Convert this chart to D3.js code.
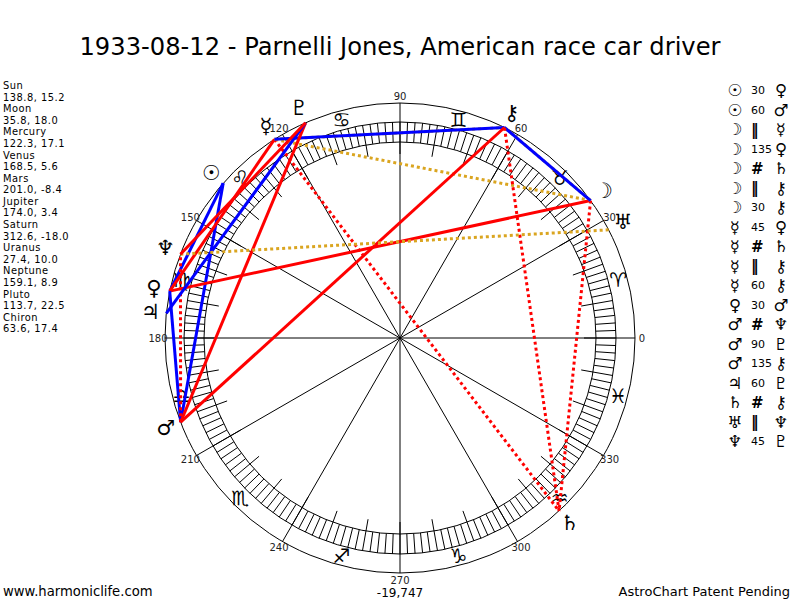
<!DOCTYPE html>
<html>
<head>
<meta charset="utf-8">
<script src="https://cdn.jsdelivr.net/npm/d3@7"></script>
<style>
  body { margin: 0; background: #fff; }
  svg { display: block; font-family: "DejaVu Sans", Verdana, sans-serif; }
</style>
</head>
<body>
<svg id="chart" width="800" height="600"></svg>
<script>
const title = "1933-08-12 - Parnelli Jones, American race car driver";
const planetNames = ["Sun", "Moon", "Mercury", "Venus", "Mars", "Jupiter", "Saturn", "Uranus", "Neptune", "Pluto", "Chiron"];
const planetGlyphs = ["\u2609", "\u263D", "\u263F", "\u2640", "\u2642", "\u2643", "\u2644", "\u2645", "\u2646", "\u2647", "\u26B7"];
const longitudes = [138.8, 35.8, 122.3, 168.5, 201.0, 174.0, 312.6, 27.4, 159.1, 113.7, 63.6];
const declinations = [15.2, 18.0, 17.1, 5.6, -8.4, 3.4, -18.0, 10.0, 8.9, 22.5, 17.4];
const signGlyphs = ["\u2648", "\u2649", "\u264A", "\u264B", "\u264C", "\u264D", "\u264E", "\u264F", "\u2650", "\u2651", "\u2652", "\u2653"];
const degreeLabels = [0, 30, 60, 90, 120, 150, 180, 210, 240, 270, 300, 330];
// [from, aspect, to]
const aspects = [
  ["Sun", "30", "Venus"],
  ["Sun", "60", "Mars"],
  ["Moon", "\u2016", "Mercury"],
  ["Moon", "135", "Venus"],
  ["Moon", "#", "Saturn"],
  ["Moon", "\u2016", "Chiron"],
  ["Moon", "30", "Chiron"],
  ["Mercury", "45", "Venus"],
  ["Mercury", "#", "Saturn"],
  ["Mercury", "\u2016", "Chiron"],
  ["Mercury", "60", "Chiron"],
  ["Venus", "30", "Mars"],
  ["Mars", "#", "Neptune"],
  ["Mars", "90", "Pluto"],
  ["Mars", "135", "Chiron"],
  ["Jupiter", "60", "Pluto"],
  ["Saturn", "#", "Chiron"],
  ["Uranus", "\u2016", "Neptune"],
  ["Neptune", "45", "Pluto"]
];
const footerLeft = "www.harmoniclife.com";
const footerMid = "-19,747";
const footerRight = "AstroChart Patent Pending";

const cx = 400, cy = 338;
const rOuter = 235, rRingOut = 216, rRingIn = 196, rLongTick = 184;
const rSign = 226, rPlanet = 251, rLabel = 242;
const vs = "\uFE0E";

const svg = d3.select("#chart");

// ecliptic degree -> pointRadial angle (0 at east, counter-clockwise)
const angle = d3.scaleLinear().domain([0, 360]).range([Math.PI / 2, Math.PI / 2 - 2 * Math.PI]);
const pt = (deg, r) => {
  const p = d3.pointRadial(angle(deg), r);
  return [cx + p[0], cy + p[1]];
};
const lonOf = name => longitudes[planetNames.indexOf(name)];
const glyphOf = name => planetGlyphs[planetNames.indexOf(name)];
const fmt = v => v.toFixed(1);

const styleOf = a => {
  if (a === "30" || a === "60" || a === "120") return { stroke: "#0000ff", dash: null };
  if (a === "\u2016") return { stroke: "#daa520", dash: "3,3" };
  if (a === "#") return { stroke: "#ff0000", dash: "3,3" };
  return { stroke: "#ff0000", dash: null };
};

svg.append("text")
  .attr("x", 400)
  .attr("y", 55)
  .attr("text-anchor", "middle")
  .attr("font-size", 24.2)
  .text(title);

// circles
const wheel = svg.append("g");
wheel.selectAll("circle")
  .data([rOuter, rRingOut, rRingIn])
  .join("circle")
  .attr("cx", cx)
  .attr("cy", cy)
  .attr("r", d => d)
  .attr("fill", "none")
  .attr("stroke", "#000")
  .attr("stroke-width", 1);

// ticks on the degree ring
wheel.selectAll("line.tick")
  .data(d3.range(0, 360, 2))
  .join("line")
  .classed("tick", true)
  .each(function (d) {
    const a = pt(d, d % 10 === 0 ? rLongTick : rRingIn);
    const b = pt(d, rRingOut);
    d3.select(this).attr("x1", a[0]).attr("y1", a[1]).attr("x2", b[0]).attr("y2", b[1]);
  })
  .attr("stroke", "#000")
  .attr("stroke-width", 1);

// spokes every 30 degrees
wheel.selectAll("line.spoke")
  .data(degreeLabels)
  .join("line")
  .classed("spoke", true)
  .attr("x1", cx)
  .attr("y1", cy)
  .attr("x2", d => pt(d, rOuter)[0])
  .attr("y2", d => pt(d, rOuter)[1])
  .attr("stroke", "#000")
  .attr("stroke-width", 1);

wheel.selectAll("text.deg")
  .data(degreeLabels)
  .join("text")
  .classed("deg", true)
  .attr("x", d => pt(d, rLabel)[0])
  .attr("y", d => pt(d, rLabel)[1])
  .attr("text-anchor", "middle")
  .attr("dominant-baseline", "central")
  .attr("font-size", 10)
  .attr("fill", "#222")
  .text(d => d);

wheel.selectAll("text.sign")
  .data(signGlyphs)
  .join("text")
  .classed("sign", true)
  .attr("x", (d, i) => pt(i * 30 + 15, rSign)[0])
  .attr("y", (d, i) => pt(i * 30 + 15, rSign)[1])
  .attr("text-anchor", "middle")
  .attr("dominant-baseline", "central")
  .attr("font-size", 20)
  .text(d => d + vs);

// aspect lines
svg.append("g")
  .selectAll("line")
  .data(aspects)
  .join("line")
  .each(function (d) {
    const a = pt(lonOf(d[0]), rOuter);
    const b = pt(lonOf(d[2]), rOuter);
    const s = styleOf(d[1]);
    d3.select(this)
      .attr("x1", a[0]).attr("y1", a[1])
      .attr("x2", b[0]).attr("y2", b[1])
      .attr("stroke", s.stroke)
      .attr("stroke-dasharray", s.dash);
  })
  .attr("stroke-width", 3);

// planet glyphs
svg.append("g")
  .selectAll("text")
  .data(planetGlyphs)
  .join("text")
  .attr("x", (d, i) => pt(longitudes[i], rPlanet)[0])
  .attr("y", (d, i) => pt(longitudes[i], rPlanet)[1])
  .attr("text-anchor", "middle")
  .attr("dominant-baseline", "central")
  .attr("font-size", 21)
  .text(d => d + vs);

// left list
const left = svg.append("g").attr("font-size", 9.9).attr("letter-spacing", 0.5);
planetNames.forEach((name, i) => {
  left.append("text").attr("x", 3).attr("y", 89 + i * 2 * 11.59).text(name);
  left.append("text").attr("x", 3).attr("y", 89 + (i * 2 + 1) * 11.59)
    .text(fmt(longitudes[i]) + ", " + fmt(declinations[i]));
});

// right list of aspects
const right = svg.append("g");
const rowY = d3.scaleLinear().domain([0, 1]).range([90.5, 110]);
const rows = right.selectAll("g")
  .data(aspects)
  .join("g")
  .attr("transform", (d, i) => `translate(0, ${rowY(i)})`);
rows.append("text")
  .attr("x", 735)
  .attr("text-anchor", "middle")
  .attr("dominant-baseline", "central")
  .attr("font-size", 16.5)
  .text(d => glyphOf(d[0]) + vs);
rows.append("text")
  .attr("x", 751)
  .attr("dominant-baseline", "central")
  .attr("font-size", d => (d[1] === "#" || d[1] === "\u2016") ? 15 : 11)
  .attr("font-weight", d => (d[1] === "#" || d[1] === "\u2016") ? "bold" : "normal")
  .text(d => d[1]);
rows.append("text")
  .attr("x", 781)
  .attr("text-anchor", "middle")
  .attr("dominant-baseline", "central")
  .attr("font-size", 16.5)
  .text(d => glyphOf(d[2]) + vs);

// footer
svg.append("text").attr("x", 3).attr("y", 596).attr("font-size", 13.2).text(footerLeft);
svg.append("text").attr("x", 400).attr("y", 597).attr("text-anchor", "middle").attr("font-size", 12).text(footerMid);
svg.append("text").attr("x", 790).attr("y", 596).attr("text-anchor", "end").attr("font-size", 13).text(footerRight);
</script>
</body>
</html>
